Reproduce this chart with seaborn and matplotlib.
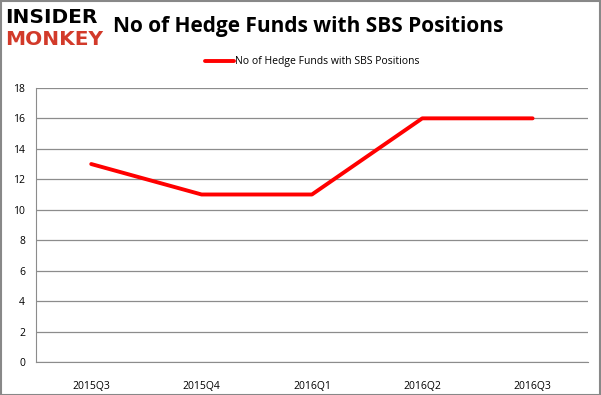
import numpy as np
import pandas as pd
import matplotlib
matplotlib.use("Agg")
import matplotlib.pyplot as plt
import seaborn as sns
from matplotlib.ticker import FixedLocator

# DATA
quarters = ["2015Q3", "2015Q4", "2016Q1", "2016Q2", "2016Q3"]
funds = [13, 11, 11, 16, 16]
series_name = "No of Hedge Funds with SBS Positions"

df = pd.DataFrame({"quarter": quarters, "funds": funds})

sns.set_style("white")
plt.rcParams["font.family"] = ["Open Sans", "DejaVu Sans"]
plt.rcParams["text.color"] = "black"
plt.rcParams["xtick.color"] = "black"
plt.rcParams["ytick.color"] = "black"

fig = plt.figure(figsize=(6.01, 3.95), dpi=100)
ax = fig.add_axes([0.06, 0.0835, 0.918, 0.694])

x = np.arange(len(quarters))
sns.lineplot(x=x, y=df["funds"], ax=ax, color="#ff0000", linewidth=2.8,
             label=series_name)

ax.set_xlim(-0.5, len(quarters) - 0.5)
ax.set_ylim(0, 18)
ax.set_yticks(range(0, 19, 2))
ax.set_xticks(x)
ax.set_xticklabels(quarters)
ax.xaxis.set_minor_locator(FixedLocator(np.arange(-0.5, len(quarters), 1)))
ax.tick_params(axis="x", which="major", length=0, pad=14, labelsize=7.5)
ax.tick_params(axis="x", which="minor", length=4, color="#888888", direction="out")
ax.tick_params(axis="y", length=4, color="#888888", direction="out", labelsize=7.5, pad=4)
ax.set_xlabel("")
ax.set_ylabel("")

ax.grid(axis="y", color="#8c8c8c", linewidth=0.9)
ax.set_axisbelow(True)
for s in ["top", "right"]:
    ax.spines[s].set_visible(False)
ax.spines["left"].set_color("#8c8c8c")
ax.spines["bottom"].set_color("#8c8c8c")

ax.legend(loc="center", bbox_to_anchor=(0.5, 1.095), frameon=False,
          fontsize=7.5, handlelength=2.8, handletextpad=0.1)

# title and logo
fig.text(0.188, 0.932, "No of Hedge Funds with SBS Positions", fontsize=15,
         fontweight="bold", va="center", ha="left", color="black")
fig.text(0.008, 0.955, "INSIDER", fontsize=14.5, fontweight="heavy", color="black",
         va="center", ha="left", family="DejaVu Sans")
fig.text(0.008, 0.900, "MONKEY", fontsize=14.5, fontweight="heavy", color="#d23a2a",
         va="center", ha="left", family="DejaVu Sans")

# figure border
fig.patches.append(plt.Rectangle((0.001, 0.001), 0.997, 0.997, transform=fig.transFigure,
                                 fill=False, edgecolor="#888888", linewidth=1.5))

fig.savefig("out.png", dpi=100)
